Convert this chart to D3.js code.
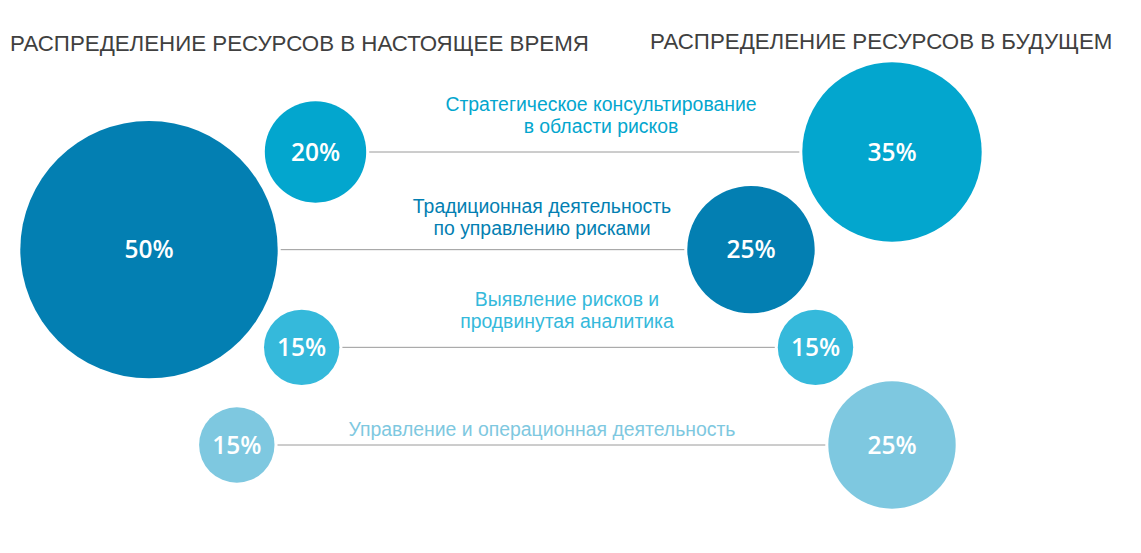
<!DOCTYPE html>
<html><head><meta charset="utf-8">
<script src="https://cdn.jsdelivr.net/npm/d3@7"></script>
<style>
html,body{margin:0;padding:0;background:#fff;}
svg{display:block;}
</style>
</head><body>
<svg id="chart" width="1141" height="553"></svg>
<script>
// ---- data ----
const titles = ["РАСПРЕДЕЛЕНИЕ РЕСУРСОВ В НАСТОЯЩЕЕ ВРЕМЯ", "РАСПРЕДЕЛЕНИЕ РЕСУРСОВ В БУДУЩЕМ"];
const categories = [
  "Стратегическое консультирование в области рисков",
  "Традиционная деятельность по управлению рисками",
  "Выявление рисков и продвинутая аналитика",
  "Управление и операционная деятельность"
];
const categoryLines = [
  ["Стратегическое консультирование", "в области рисков"],
  ["Традиционная деятельность", "по управлению рисками"],
  ["Выявление рисков и", "продвинутая аналитика"],
  ["Управление и операционная деятельность"]
];
const currentValues = [20, 50, 15, 15];
const futureValues = [35, 25, 15, 25];

// ---- layout / style ----
const colors = ["#03a6ce", "#037fb2", "#35b9db", "#7ec8e0"];
const leftCx = [315.5, 149, 301.7, 236.8];
const rightCx = [892, 751, 815.5, 892];
const labelX = [601, 542, 567, 542];
const labelBaseline = [-41, -37, -41, -9];
const lineGap = 3;

const svg = d3.select("#chart");
const y = d3.scalePoint().domain(categories).range([152, 445]);
const r = d3.scaleLinear().domain([15, 50]).range([37.7, 128.7]);

const rows = categories.map((c, i) => ({
  cat: c, i, lines: categoryLines[i], cur: currentValues[i], fut: futureValues[i],
  lx: leftCx[i], rx: rightCx[i], color: colors[i]
}));

// titles
svg.append("text").attr("x", 10).attr("y", 51)
  .attr("font-family", "Liberation Sans, Arial, sans-serif").attr("font-size", 22.3)
  .attr("fill", "#404040").text(titles[0]);
svg.append("text").attr("x", 650).attr("y", 49)
  .attr("font-family", "Liberation Sans, Arial, sans-serif").attr("font-size", 22.3)
  .attr("fill", "#404040").text(titles[1]);

// connector lines
svg.append("g").selectAll("line").data(rows).join("line")
  .attr("x1", d => d.lx + r(d.cur) + lineGap)
  .attr("x2", d => d.rx - r(d.fut) - lineGap)
  .attr("y1", d => y(d.cat)).attr("y2", d => y(d.cat))
  .attr("stroke", "#9a9a9a").attr("stroke-width", 1);

// labels
const lab = svg.append("g").selectAll("text").data(rows).join("text")
  .attr("x", d => labelX[d.i])
  .attr("y", d => y(d.cat) + labelBaseline[d.i])
  .attr("text-anchor", "middle")
  .attr("font-family", "Liberation Sans, Arial, sans-serif")
  .attr("font-size", 19.4)
  .attr("fill", d => d.color);
lab.selectAll("tspan").data(d => d.lines.map((t, k) => ({t, k, x: labelX[d.i]}))).join("tspan")
  .attr("x", d => d.x).attr("dy", d => d.k === 0 ? 0 : 22).text(d => d.t);

// circles
function bubbles(key, cxKey) {
  const g = svg.append("g").selectAll("g").data(rows).join("g")
    .attr("transform", d => `translate(${d[cxKey]},${y(d.cat)})`);
  g.append("circle").attr("r", d => r(d[key])).attr("fill", d => d.color);
  g.append("text").attr("text-anchor", "middle").attr("dy", "0.36em")
    .attr("font-family", "Open Sans, sans-serif").attr("font-weight", 600)
    .attr("font-size", 24.5).attr("fill", "#fff")
    .text(d => d[key] + "%");
}
bubbles("cur", "lx");
bubbles("fut", "rx");
</script>
</body></html>
